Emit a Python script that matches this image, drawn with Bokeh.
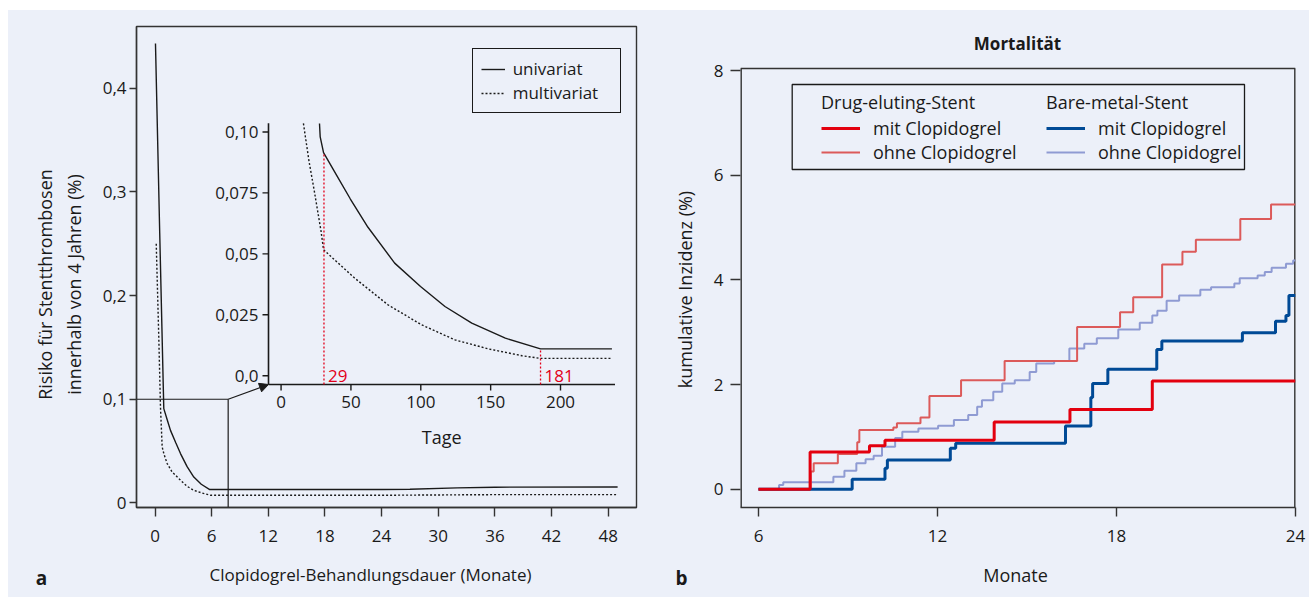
import math
from bokeh.plotting import figure
from bokeh.models import (Range1d, FixedTicker, Legend, LegendItem, Label, Arrow,
                          NormalHead, BoxAnnotation, Spacer)
from bokeh.layouts import row, column
from bokeh.embed import file_html
from bokeh.resources import INLINE
from bokeh.core.properties import value

FONT = "Open Sans"
BG = "#ECF0F9"
INK = "#1a1a1a"
FRAME_C = "#333333"
RED_MARK = "#E2001A"

# ---------------- Panel a data ----------------
uni_months = [0.05, 0.5, 0.93, 1.3, 1.64, 2.2, 2.7, 3.4, 4.11, 4.9, 5.8, 12, 24, 27, 32, 36, 49]
uni_risk = [0.443, 0.26, 0.091, 0.080, 0.070, 0.058, 0.0476, 0.035, 0.025, 0.018, 0.0129,
            0.0129, 0.0129, 0.0132, 0.0145, 0.0152, 0.0154]
multi_months = [0.13, 0.4, 0.58, 0.76, 0.95, 1.29, 1.8, 2.7, 3.4, 4.11, 5.0, 5.9, 24, 30, 36, 49]
multi_risk = [0.25, 0.16, 0.0925, 0.054, 0.047, 0.038, 0.030, 0.0219, 0.016, 0.0122, 0.0095,
              0.0074, 0.0074, 0.0077, 0.008, 0.008]

inset_uni_days = [27.5, 28.0, 30.4, 40, 49.6, 62.2, 81.3, 99.8, 117.3, 136.5, 160.5, 185.7, 236.8]
inset_uni_risk = [0.1035, 0.098, 0.0915, 0.082, 0.0725, 0.0609, 0.0462, 0.0366, 0.0284, 0.0216,
                  0.0154, 0.011, 0.011]
inset_multi_days = [16, 20, 23.8, 28.6, 30.4, 38.2, 52.6, 76.5, 100.5, 124.5, 148.5, 172.5, 185.7, 236.8]
inset_multi_risk = [0.1035, 0.088, 0.0757, 0.0593, 0.0517, 0.0476, 0.0401, 0.0291, 0.0209, 0.0147,
                    0.011, 0.0082, 0.0071, 0.0071]

marker_days = [30.7, 185.7]
marker_tops = [0.0915, 0.011]
marker_labels = ["29", "181"]

a_xticks = [0, 6, 12, 18, 24, 30, 36, 42, 48]
a_yticks = [0, 0.1, 0.2, 0.3, 0.4]
a_ylabels = ["0", "0,1", "0,2", "0,3", "0,4"]
inset_xticks = [0, 50, 100, 150, 200]
inset_yticks = [0.0, 0.025, 0.05, 0.075, 0.10]
inset_ylabels = ["0,0", "0,025", "0,05", "0,075", "0,10"]
zoom_months = 7.75
zoom_risk = 0.1

# ---------------- Panel b data ----------------
des_mit_x = [6.0, 7.73, 9.72, 10.24, 13.9, 16.44, 19.2, 24.0]
des_mit_y = [0, 0.71, 0.83, 0.934, 1.283, 1.525, 2.07, 2.07]
des_ohne_x = [6.0, 7.75, 7.85, 8.66, 9.31, 9.38, 10.52, 10.64, 11.43, 11.73, 12.79, 14.25, 16.68,
              18.12, 18.56, 19.53, 20.21, 20.66, 22.15, 23.18, 24.0]
des_ohne_y = [0, 0.34, 0.495, 0.673, 0.896, 1.13, 1.18, 1.258, 1.37, 1.78, 2.08, 2.45, 3.1,
              3.38, 3.67, 4.295, 4.537, 4.766, 5.166, 5.44, 5.44]
bms_mit_x = [6.0, 9.14, 10.24, 10.32, 12.43, 12.61, 16.29, 17.14, 17.2, 17.71, 19.35, 19.52,
             22.22, 23.33, 23.68, 23.78, 24.0]
bms_mit_y = [0, 0.19, 0.40, 0.56, 0.78, 0.877, 1.207, 1.754, 2.02, 2.29, 2.67, 2.83, 2.99,
             3.21, 3.32, 3.70, 3.70]
bms_ohne_x = [6.0, 6.69, 6.83, 8.51, 8.88, 9.28, 9.59, 9.86, 10.14, 10.58, 10.82, 11.36, 12.02,
              12.55, 13.03, 13.33, 13.49, 13.87, 14.17, 14.59, 15.09, 15.31, 15.91, 16.42, 16.92,
              17.34, 18.06, 18.78, 19.20, 19.37, 19.68, 20.10, 20.81, 21.17, 21.95, 22.13, 22.73,
              22.97, 23.20, 23.68, 23.92, 24.0]
bms_ohne_y = [0, 0.08, 0.133, 0.24, 0.35, 0.495, 0.57, 0.64, 0.81, 0.98, 1.10, 1.16, 1.21, 1.32,
              1.42, 1.575, 1.70, 1.86, 2.02, 2.08, 2.24, 2.40, 2.45, 2.69, 2.78, 2.885, 3.05, 3.18,
              3.32, 3.41, 3.60, 3.70, 3.81, 3.86, 3.93, 4.03, 4.085, 4.15, 4.23, 4.31, 4.37, 4.37]
b_xticks = [6, 12, 18, 24]
b_yticks = [0, 2, 4, 6, 8]

# ---------------- Layout (page pixels) ----------------
PAGE_L, PAGE_T = 8, 10
W_A, W_B, H = 646, 655, 587
A_FR = dict(l=136, r=636, t=26, b=507)
B_FR = dict(l=740, r=1295, t=26, b=507)   # plotting frame of panel b
B_BOX_TOP = 68                               # top of the drawn box of panel b
A_XR, A_YR = (-1.96, 51.0), (-0.0044, 0.4595)
B_XR, B_YBOX = (5.397, 24.0), (-0.35, 8.04)
INSET_BOX = dict(l=268, r=614.5, t=122.7, b=384)
INSET_XLIM, INSET_YLIM = (-9, 239), (-0.0036, 0.1036)


def lin(v, a0, a1, b0, b1):
    return b0 + (v - a0) * (b1 - b0) / (a1 - a0)


# panel b frame y-range extends above the drawn box
B_YR = (B_YBOX[0], lin(B_FR["t"], B_FR["b"], B_BOX_TOP, *B_YBOX))


def a_x(px):
    return lin(px, A_FR["l"], A_FR["r"], *A_XR)


def a_y(py):
    return lin(py, A_FR["b"], A_FR["t"], *A_YR)


def b_x(px):
    return lin(px, B_FR["l"], B_FR["r"], *B_XR)


def b_y(py):
    return lin(py, B_FR["b"], B_FR["t"], *B_YR)


def style_axes(p):
    p.xgrid.visible = False
    p.ygrid.visible = False
    for ax in (p.xaxis, p.yaxis):
        ax.axis_line_color = FRAME_C
        ax.axis_line_width = 1.4
        ax.major_tick_line_color = FRAME_C
        ax.major_tick_line_width = 1.4
        ax.major_tick_in = 0
        ax.minor_tick_line_color = None
        ax.major_label_text_font = FONT
        ax.major_label_text_font_size = "17px"
        ax.major_label_text_color = INK
    p.xaxis.major_tick_out = 9
    p.xaxis.major_label_standoff = 13
    p.border_fill_color = BG
    p.background_fill_color = BG


def side_label(p, x, y, text, size="18px", bold=False, angle=0.0, side="left"):
    p.add_layout(Label(x=x, y=y, text=text, angle=angle, text_align="center",
                       text_baseline="middle", text_font=FONT, text_font_size=size,
                       text_font_style="bold" if bold else "normal", text_color=INK), side)


# ================= Panel a =================
pa = figure(width=W_A, height=H, x_range=Range1d(*A_XR), y_range=Range1d(*A_YR),
            output_backend="svg", toolbar_location=None,
            min_border_left=A_FR["l"] - PAGE_L, min_border_right=PAGE_L + W_A - A_FR["r"],
            min_border_top=A_FR["t"] - PAGE_T, min_border_bottom=PAGE_T + H - A_FR["b"])
style_axes(pa)
pa.outline_line_color = FRAME_C
pa.outline_line_width = 1.4
pa.outline_line_alpha = 1.0
pa.xaxis.ticker = FixedTicker(ticks=a_xticks)
pa.yaxis.ticker = FixedTicker(ticks=a_yticks)
pa.yaxis.major_label_overrides = dict(zip(a_yticks, a_ylabels))
pa.yaxis.major_tick_out = 7
pa.yaxis.major_label_standoff = 3

# inset ranges mapped onto the same frame
pa.extra_x_ranges = {"days": Range1d(lin(A_FR["l"], INSET_BOX["l"], INSET_BOX["r"], *INSET_XLIM),
                                     lin(A_FR["r"], INSET_BOX["l"], INSET_BOX["r"], *INSET_XLIM))}
pa.extra_y_ranges = {"inset": Range1d(lin(A_FR["b"], INSET_BOX["b"], INSET_BOX["t"], *INSET_YLIM),
                                      lin(A_FR["t"], INSET_BOX["b"], INSET_BOX["t"], *INSET_YLIM))}
px_per_day = (INSET_BOX["r"] - INSET_BOX["l"]) / (INSET_XLIM[1] - INSET_XLIM[0])
px_per_risk = (INSET_BOX["b"] - INSET_BOX["t"]) / (INSET_YLIM[1] - INSET_YLIM[0])

r_uni = pa.line(uni_months, uni_risk, line_color=INK, line_width=1.4)
r_multi = pa.line(multi_months, multi_risk, line_color=INK, line_width=1.4, line_dash="2 2")

# zoom connector
pa.line([A_XR[0], zoom_months], [zoom_risk, zoom_risk], line_color=INK, line_width=1.2)
pa.line([zoom_months, zoom_months], [zoom_risk, A_YR[0]], line_color=INK, line_width=1.2)
pa.add_layout(Arrow(end=NormalHead(size=9, fill_color=INK, line_color=INK),
                    x_start=zoom_months, y_start=zoom_risk,
                    x_end=a_x(INSET_BOX["l"]), y_end=a_y(INSET_BOX["b"]),
                    line_color=INK, line_width=1.2))

kw = dict(x_range_name="days", y_range_name="inset")
tf = value(FONT)
# inset axes
pa.line([INSET_XLIM[0]] * 2, list(INSET_YLIM), line_color=INK, line_width=1.6, **kw)
pa.line(list(INSET_XLIM), [INSET_YLIM[0]] * 2, line_color=INK, line_width=1.6, **kw)
pa.segment(x0=[INSET_XLIM[0]] * len(inset_yticks), y0=inset_yticks,
           x1=[INSET_XLIM[0] - 6 / px_per_day] * len(inset_yticks), y1=inset_yticks,
           line_color=INK, line_width=1.4, **kw)
pa.segment(x0=inset_xticks, y0=[INSET_YLIM[0]] * len(inset_xticks),
           x1=inset_xticks, y1=[INSET_YLIM[0] - 6 / px_per_risk] * len(inset_xticks),
           line_color=INK, line_width=1.4, **kw)
pa.text(x=[INSET_XLIM[0]] * len(inset_yticks), y=inset_yticks, text=inset_ylabels,
        x_offset=-10, text_align="right", text_baseline="middle", text_font=tf,
        text_font_size="17px", text_color=INK, **kw)
pa.text(x=inset_xticks, y=[INSET_YLIM[0]] * len(inset_xticks), text=[str(t) for t in inset_xticks],
        y_offset=17, text_align="center", text_baseline="middle", text_font=tf,
        text_font_size="17px", text_color=INK, **kw)
pa.text(x=[sum(INSET_XLIM) / 2], y=[INSET_YLIM[0]], text=["Tage"], y_offset=52,
        text_align="center", text_baseline="middle", text_font=tf, text_font_size="18px",
        text_color=INK, **kw)

# inset curves
pa.line(inset_uni_days, inset_uni_risk, line_color=INK, line_width=1.4, **kw)
pa.line(inset_multi_days, inset_multi_risk, line_color=INK, line_width=1.4, line_dash="2 2", **kw)
pa.segment(x0=marker_days, y0=[INSET_YLIM[0]] * 2, x1=marker_days, y1=marker_tops,
           line_color=RED_MARK, line_width=1.3, line_dash="2 2", **kw)
pa.text(x=marker_days, y=[0, 0], text=marker_labels, x_offset=4, text_align="left",
        text_baseline="middle", text_font=tf, text_font_size="17px", text_color=RED_MARK, **kw)

leg_a = Legend(items=[LegendItem(label="univariat", renderers=[r_uni]),
                      LegendItem(label="multivariat", renderers=[r_multi])],
               location=(471.7 - A_FR["l"], A_FR["b"] - 113.3),
               border_line_color=INK, border_line_width=1.3, border_line_alpha=1.0,
               background_fill_alpha=0,
               padding=8, spacing=1, glyph_width=24, glyph_height=20, label_height=20,
               label_standoff=8, label_width=99, margin=0,
               label_text_font=FONT, label_text_font_size="17px", label_text_color=INK)
pa.add_layout(leg_a)

# outer texts of panel a (placed in the side panels so they are not clipped)
side_label(pa, a_x(59), a_y(284), "Risiko für Stentthrombosen\ninnerhalb von 4 Jahren (%)",
           angle=math.pi / 2, side="left")
side_label(pa, a_x(41), a_y(577), "a", size="19px", bold=True, side="left")
side_label(pa, a_x(370), a_y(574), "Clopidogrel-Behandlungsdauer (Monate)", size="17px",
           side="below")

# ================= Panel b =================
pb = figure(width=W_B, height=H, x_range=Range1d(*B_XR), y_range=Range1d(*B_YR),
            output_backend="svg", toolbar_location=None,
            min_border_left=B_FR["l"] - (PAGE_L + W_A), min_border_right=PAGE_L + W_A + W_B - B_FR["r"],
            min_border_top=B_FR["t"] - PAGE_T, min_border_bottom=PAGE_T + H - B_FR["b"])
style_axes(pb)
pb.outline_line_color = None
pb.yaxis.axis_line_color = None
pb.xaxis.ticker = FixedTicker(ticks=b_xticks)
pb.yaxis.ticker = FixedTicker(ticks=b_yticks)
pb.yaxis.major_tick_out = 10
pb.yaxis.major_label_standoff = 7

# box of panel b (left, top, right edges; bottom is the x axis)
pb.line([B_XR[0], B_XR[0]], list(B_YBOX), line_color=FRAME_C, line_width=2.8)
pb.line(list(B_XR), [B_YBOX[1]] * 2, line_color=FRAME_C, line_width=1.4)
pb.line([B_XR[1], B_XR[1]], list(B_YBOX), line_color=FRAME_C, line_width=2.8)

r_bms_ohne = pb.step(bms_ohne_x, bms_ohne_y, mode="after", line_color="#8F9BD3", line_width=2)
r_des_ohne = pb.step(des_ohne_x, des_ohne_y, mode="after", line_color="#DC5A5A", line_width=2)
r_bms_mit = pb.step(bms_mit_x, bms_mit_y, mode="after", line_color="#004A96", line_width=3)
r_des_mit = pb.step(des_mit_x, des_mit_y, mode="after", line_color="#E3000F", line_width=3)

pb.add_layout(BoxAnnotation(left=b_x(791.7), right=b_x(1244), top=b_y(84), bottom=b_y(169),
                            fill_color=None, fill_alpha=0, line_color=INK, line_alpha=1.0,
                            line_width=1.3))
common = dict(border_line_color=None, background_fill_alpha=0, padding=0, spacing=0,
              glyph_width=39, glyph_height=20, label_height=20, label_standoff=13, margin=0,
              label_text_font=FONT, label_text_font_size="18px", label_text_color=INK,
              title_text_font=FONT, title_text_font_size="18px", title_text_font_style="normal",
              title_text_color=INK, title_standoff=2)
leg_des = Legend(items=[LegendItem(label="mit Clopidogrel", renderers=[r_des_mit]),
                        LegendItem(label="ohne Clopidogrel", renderers=[r_des_ohne])],
                 title="Drug-eluting-Stent", location=(821 - B_FR["l"], B_FR["b"] - 163.5), **common)
leg_bms = Legend(items=[LegendItem(label="mit Clopidogrel", renderers=[r_bms_mit]),
                        LegendItem(label="ohne Clopidogrel", renderers=[r_bms_ohne])],
                 title="Bare-metal-Stent", location=(1046 - B_FR["l"], B_FR["b"] - 163.5), **common)
pb.add_layout(leg_des)
pb.add_layout(leg_bms)

pb.add_layout(Label(x=b_x(1017), y=b_y(43), text="Mortalität", text_align="center",
                    text_baseline="middle", text_font=FONT, text_font_size="17px",
                    text_font_style="bold", text_color=INK))
side_label(pb, b_x(684), b_y(289), "kumulative Inzidenz (%)", angle=math.pi / 2, side="left")
side_label(pb, b_x(681), b_y(577), "b", size="19px", bold=True, side="left")
side_label(pb, b_x(1015), b_y(574), "Monate", side="below")

panels = row(pa, pb, styles={"background-color": BG})
layout = column(Spacer(width=PAGE_L + W_A + W_B, height=PAGE_T),
                row(Spacer(width=PAGE_L, height=H), panels))
open("out.html", "w").write(file_html(layout, INLINE))
